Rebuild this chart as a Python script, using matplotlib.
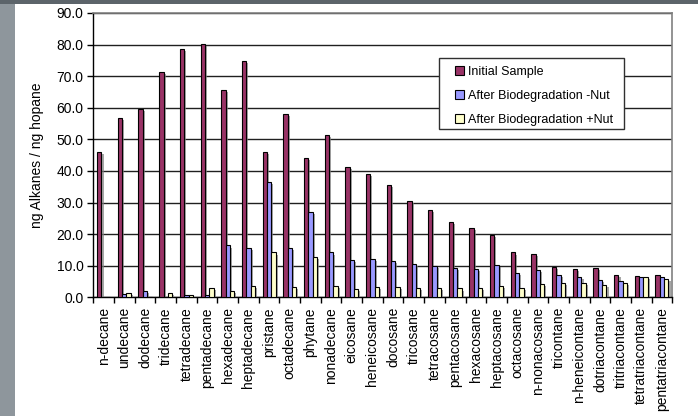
import numpy as np
import matplotlib.pyplot as plt
from matplotlib.patches import Rectangle
import matplotlib.patheffects as pe

plt.rcParams['font.family'] = ['Liberation Sans', 'DejaVu Sans']

compounds = ['n-decane', 'undecane', 'dodecane', 'tridecane', 'tetradecane',
             'pentadecane', 'hexadecane', 'heptadecane', 'pristane', 'octadecane',
             'phytane', 'nonadecane', 'eicosane', 'heneicosane', 'docosane',
             'tricosane', 'tetracosane', 'pentacosane', 'hexacosane', 'heptacosane',
             'octacosane', 'n-nonacosane', 'tricontane', 'n-heneicontane',
             'dotriacontane', 'tritriacontane', 'tetratriacontane', 'pentatriacontane']

initial = [46.1, 56.7, 59.6, 71.4, 78.6, 80.1, 65.7, 74.7, 45.9, 58.0,
           44.1, 51.4, 41.3, 38.9, 35.6, 30.4, 27.6, 23.7, 21.8, 19.7,
           14.2, 13.6, 9.5, 9.0, 9.2, 7.2, 6.6, 7.1]
no_nut = [0.0, 0.9, 2.0, 0.0, 0.7, 0.7, 16.4, 15.5, 36.6, 15.5,
          26.9, 14.2, 11.9, 12.0, 11.5, 10.6, 10.0, 9.2, 8.9, 10.1,
          7.6, 8.6, 7.0, 6.5, 5.5, 5.2, 6.3, 6.3]
with_nut = [0.0, 1.4, 0.0, 1.3, 0.7, 2.9, 1.9, 3.5, 14.2, 3.3,
            12.7, 3.5, 2.7, 3.2, 3.2, 3.0, 3.0, 2.8, 3.0, 3.6,
            3.0, 4.1, 4.4, 4.4, 3.8, 4.5, 6.5, 5.9]

series = [('Initial Sample', initial, '#993366'),
          ('After Biodegradation -Nut', no_nut, '#9999ff'),
          ('After Biodegradation +Nut', with_nut, '#ffffcc')]

W, H = 698, 416
fig = plt.figure(figsize=(W / 100, H / 100), dpi=100)
fig.patch.set_facecolor('white')
# slide border strips on the left and top
fig.patches.append(Rectangle((0, 0), 15 / W, 1, transform=fig.transFigure,
                             facecolor='#8e969c', edgecolor='none', zorder=0))
fig.patches.append(Rectangle((0, 1 - 4 / H), 1, 4 / H, transform=fig.transFigure,
                             facecolor='#5c646a', edgecolor='none', zorder=0))

ax = fig.add_axes([93.3 / W, 1 - 297.3 / H, 579 / W, 284.4 / H])

x = np.arange(len(compounds))
w = 0.21
shadow = [pe.SimplePatchShadow(offset=(1.5, -1.5), shadow_rgbFace='#808080', alpha=0.7),
          pe.Normal()]
for i, (name, vals, col) in enumerate(series):
    bars = ax.bar(x + (i - 1) * w, vals, w, color=col, edgecolor='black',
                  linewidth=0.8, label=name, zorder=3)
    for b in bars:
        b.set_path_effects(shadow)

ax.set_xlim(-0.5, len(compounds) - 0.5)
ax.set_ylim(0, 90)
ax.set_yticks(np.arange(0, 91, 10))
ax.set_yticklabels([f'{v:.1f}' for v in np.arange(0, 91, 10)], fontsize=10)
ax.set_xticks(x)
ax.set_xticklabels(compounds, rotation=90, fontsize=10)
ax.set_xticks(np.arange(-0.5, len(compounds)), minor=True)
ax.tick_params(axis='x', which='major', length=0, pad=7)
ax.tick_params(axis='x', which='minor', length=4, width=1, direction='out')
ax.tick_params(axis='y', length=4, width=1, direction='out', pad=3)

ax.grid(axis='y', color='#202020', linewidth=1, zorder=0)
ax.set_axisbelow(True)
for s in ['top', 'right']:
    ax.spines[s].set_color('#808080')
    ax.spines[s].set_linewidth(1.2)
for s in ['left', 'bottom']:
    ax.spines[s].set_color('black')
    ax.spines[s].set_linewidth(1)

ax.set_ylabel('ng Alkanes / ng hopane', fontsize=10, labelpad=9)

# legend box drawn separately so its padding can differ per side
to_ax = lambda px, py: ((px - 93.3) / 579, (297.3 - py) / 284.4)
x0, y0 = to_ax(439, 129)
x1, y1 = to_ax(624, 58)
ax.add_patch(Rectangle((x0, y0), x1 - x0, y1 - y0, transform=ax.transAxes,
                       facecolor='white', edgecolor='#303030', linewidth=1,
                       zorder=4, clip_on=False))
lx, ly = to_ax(455, 66)
leg = ax.legend(loc='upper left', bbox_to_anchor=(lx, ly), fontsize=9,
                frameon=False, handlelength=0.75, handleheight=0.75,
                handletextpad=0.3, labelspacing=0.95, borderpad=0,
                borderaxespad=0)
leg.set_zorder(5)
for h in leg.legend_handles:
    h.set_path_effects([])

fig.savefig('out.png', dpi=100)
